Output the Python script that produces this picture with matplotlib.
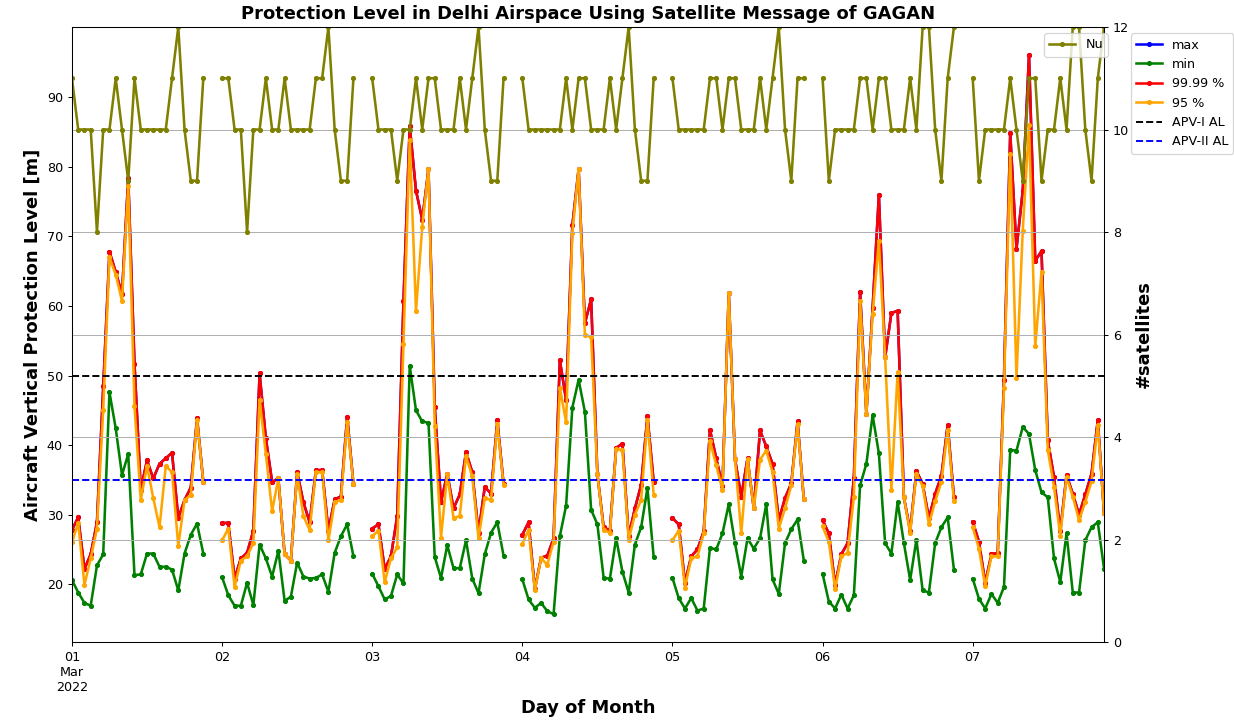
import matplotlib
matplotlib.use("Agg")
import matplotlib.pyplot as plt
import numpy as np
import pandas as pd

# hourly solutions 00:00-21:00 for each day, 22:00 and 23:00 have no fix
day_labels = ["01\nMar\n2022", "02", "03", "04", "05", "06", "07"]

pl_min = [
    [20.6, 18.8, 17.3, 16.9, 22.7, 24.3, 47.6, 42.4, 35.7, 38.7, 21.3, 21.4, 24.4, 24.4, 22.5, 22.5, 22.1, 19.1, 24.4, 27.1, 28.7, 24.4],
    [21.0, 18.4, 16.9, 16.9, 20.2, 17.0, 25.7, 23.7, 21.1, 24.8, 17.6, 18.2, 23.1, 21.1, 20.8, 20.9, 21.4, 18.9, 24.5, 26.9, 28.6, 24.0],
    [21.5, 19.7, 17.8, 18.3, 21.4, 20.1, 51.4, 45.0, 43.4, 43.2, 23.9, 20.9, 25.6, 22.3, 22.3, 26.3, 20.8, 18.7, 24.3, 27.4, 28.9, 24.1],
    [20.7, 17.8, 16.6, 17.3, 16.1, 15.7, 26.9, 31.3, 45.4, 49.4, 44.8, 30.7, 28.6, 20.9, 20.8, 26.6, 21.8, 18.8, 25.7, 28.2, 33.8, 23.9],
    [20.9, 18.0, 16.5, 18.0, 16.2, 16.5, 25.2, 25.0, 27.3, 31.5, 25.9, 21.1, 26.6, 25.1, 26.6, 31.5, 20.7, 18.6, 25.9, 27.9, 29.3, 23.4],
    [21.5, 17.5, 16.5, 18.5, 16.5, 18.4, 34.2, 37.3, 44.3, 38.8, 25.9, 24.4, 31.8, 25.9, 20.6, 26.4, 19.1, 18.8, 25.9, 28.2, 29.6, 22.1],
    [20.8, 17.9, 16.5, 18.6, 17.3, 19.6, 39.3, 39.2, 42.6, 41.6, 36.4, 33.2, 32.5, 23.7, 20.3, 27.3, 18.8, 18.8, 26.3, 28.2, 28.9, 22.2],
]

pl_9999 = [
    [27.8, 29.6, 22.2, 24.3, 28.9, 48.5, 67.8, 64.9, 61.7, 78.4, 51.7, 33.6, 37.8, 35.2, 37.3, 38.1, 38.9, 29.5, 32.1, 33.9, 43.9, 34.7],
    [28.8, 28.8, 20.8, 23.7, 24.5, 27.7, 50.3, 41.0, 34.7, 35.2, 24.3, 23.4, 36.1, 31.8, 28.9, 36.4, 36.4, 27.7, 32.2, 32.6, 44.1, 34.4],
    [28.0, 28.6, 22.2, 24.0, 29.8, 60.7, 85.9, 76.6, 72.4, 79.7, 45.5, 31.8, 35.9, 30.9, 32.9, 39.0, 36.1, 27.4, 34.0, 33.0, 43.6, 34.4],
    [27.1, 28.9, 19.3, 23.8, 24.1, 26.6, 52.2, 46.5, 71.6, 79.7, 57.5, 61.0, 35.8, 28.2, 27.7, 39.6, 40.2, 26.9, 30.9, 34.3, 44.2, 34.7],
    [29.5, 28.6, 20.2, 24.0, 25.0, 27.6, 42.2, 38.1, 34.1, 61.9, 38.0, 32.6, 38.1, 30.9, 42.1, 39.8, 37.3, 29.2, 32.4, 34.5, 43.4, 32.2],
    [29.2, 27.3, 19.9, 24.3, 25.9, 35.2, 62.0, 44.5, 59.7, 76.0, 52.6, 59.0, 59.3, 32.5, 27.7, 36.3, 34.4, 29.5, 33.0, 35.6, 42.9, 32.5],
    [29.0, 26.1, 20.2, 24.3, 24.5, 49.4, 84.9, 68.2, 76.6, 96.1, 66.5, 67.9, 40.7, 35.4, 27.6, 35.7, 33.0, 30.0, 32.9, 35.9, 43.6, 30.2],
]

pl_95 = [
    [26.0, 28.8, 19.9, 23.7, 28.0, 45.1, 67.0, 64.5, 60.7, 77.2, 45.6, 32.1, 37.0, 32.4, 28.2, 37.0, 36.1, 25.5, 32.1, 32.8, 43.6, 34.7],
    [26.3, 28.0, 19.6, 23.4, 24.0, 25.9, 46.5, 38.7, 30.5, 35.2, 24.3, 23.4, 35.8, 29.8, 27.8, 36.1, 36.1, 26.3, 31.8, 32.1, 43.3, 34.4],
    [26.9, 27.7, 20.3, 23.7, 25.3, 54.6, 83.8, 59.3, 71.4, 79.7, 42.7, 26.7, 35.8, 29.5, 29.8, 38.4, 35.5, 26.6, 32.4, 32.1, 43.0, 34.2],
    [25.8, 27.8, 19.1, 23.7, 22.8, 26.1, 48.2, 43.3, 70.5, 79.7, 55.9, 55.5, 35.8, 27.8, 27.4, 39.4, 39.3, 26.4, 30.0, 32.1, 43.6, 32.8],
    [26.3, 27.7, 19.5, 23.7, 24.0, 27.3, 40.6, 37.1, 33.5, 61.9, 38.0, 27.3, 38.0, 30.9, 37.9, 39.2, 36.1, 28.0, 30.9, 34.2, 43.0, 32.2],
    [28.3, 26.1, 19.3, 24.0, 24.5, 32.5, 60.7, 44.4, 58.8, 69.4, 52.6, 33.6, 50.5, 32.5, 27.3, 35.9, 34.1, 28.6, 31.9, 34.7, 42.2, 31.9],
    [28.2, 25.1, 19.7, 24.0, 24.0, 48.2, 81.8, 49.7, 70.8, 86.0, 54.2, 64.9, 39.3, 34.0, 26.9, 35.4, 32.6, 29.2, 31.8, 34.8, 42.9, 30.2],
]

# max sits on top of the 99.99 % bound everywhere at this scale
pl_max = pl_9999

n_sats = [
    [11, 10, 10, 10, 8, 10, 10, 11, 10, 9, 11, 10, 10, 10, 10, 10, 11, 12, 10, 9, 9, 11],
    [11, 11, 10, 10, 8, 10, 10, 11, 10, 10, 11, 10, 10, 10, 10, 11, 11, 12, 10, 9, 9, 11],
    [11, 10, 10, 10, 9, 10, 10, 11, 10, 11, 11, 10, 10, 10, 11, 10, 11, 12, 10, 9, 9, 11],
    [11, 10, 10, 10, 10, 10, 10, 11, 10, 11, 11, 10, 10, 10, 11, 10, 11, 12, 10, 9, 9, 11],
    [11, 10, 10, 10, 10, 10, 11, 11, 10, 11, 11, 10, 10, 10, 11, 10, 11, 12, 10, 9, 11, 11],
    [11, 9, 10, 10, 10, 10, 11, 11, 10, 11, 11, 10, 10, 10, 11, 10, 12, 12, 10, 9, 11, 12],
    [11, 9, 10, 10, 10, 10, 11, 10, 9, 11, 11, 9, 10, 10, 11, 10, 12, 12, 10, 9, 11, 12],
]

APV1_AL = 50
APV2_AL = 35


def hourly(days):
    # chain the days, leaving gaps for the hours without a solution
    vals = []
    for d in days:
        vals += list(d) + [np.nan, np.nan]
    return np.array(vals[:-2], dtype=float)


times = pd.date_range("2022-03-01", periods=7 * 24, freq="h")[:-2]
day_ticks = pd.date_range("2022-03-01", periods=7, freq="D")

DPI = 92
fig, ax = plt.subplots(figsize=(1234 / DPI, 720 / DPI), dpi=DPI)
fig.subplots_adjust(left=0.0583, right=0.8947, bottom=0.1083, top=0.9625)

ax.plot(times, hourly(pl_max), color="blue", marker=".", lw=2, label="max")
ax.plot(times, hourly(pl_min), color="green", marker=".", lw=2, label="min")
ax.plot(times, hourly(pl_9999), color="red", marker=".", lw=2, label="99.99 %")
ax.plot(times, hourly(pl_95), color="orange", marker=".", lw=2, label="95 %")
ax.axhline(APV1_AL, color="black", ls="--", lw=1.5, label="APV-I AL")
ax.axhline(APV2_AL, color="blue", ls="--", lw=1.5, label="APV-II AL")

ax.set_xlim(times[0], times[-1])
ax.set_yticks(np.arange(20, 100, 10))
ax.set_xticks(day_ticks)
ax.set_xticklabels(day_labels)
ax.set_xlabel("Day of Month", fontsize=14, fontweight="bold")
ax.set_ylabel("Aircraft Vertical Protection Level [m]", fontsize=14, fontweight="bold")
ax.set_title("Protection Level in Delhi Airspace Using Satellite Message of GAGAN",
             fontsize=14, fontweight="bold")
ax.legend(loc="upper left", bbox_to_anchor=(1.02, 1))

ax2 = ax.twinx()
ax2.plot(times, hourly(n_sats), color="olive", marker=".", lw=2, label="Nu")
ax2.set_ylim(0, 12)
ax2.set_ylabel("#satellites", fontsize=14, fontweight="bold")
ax2.grid(True)
ax2.legend(loc="upper right", bbox_to_anchor=(1.01, 1))

plt.savefig("out.png", dpi=DPI)
